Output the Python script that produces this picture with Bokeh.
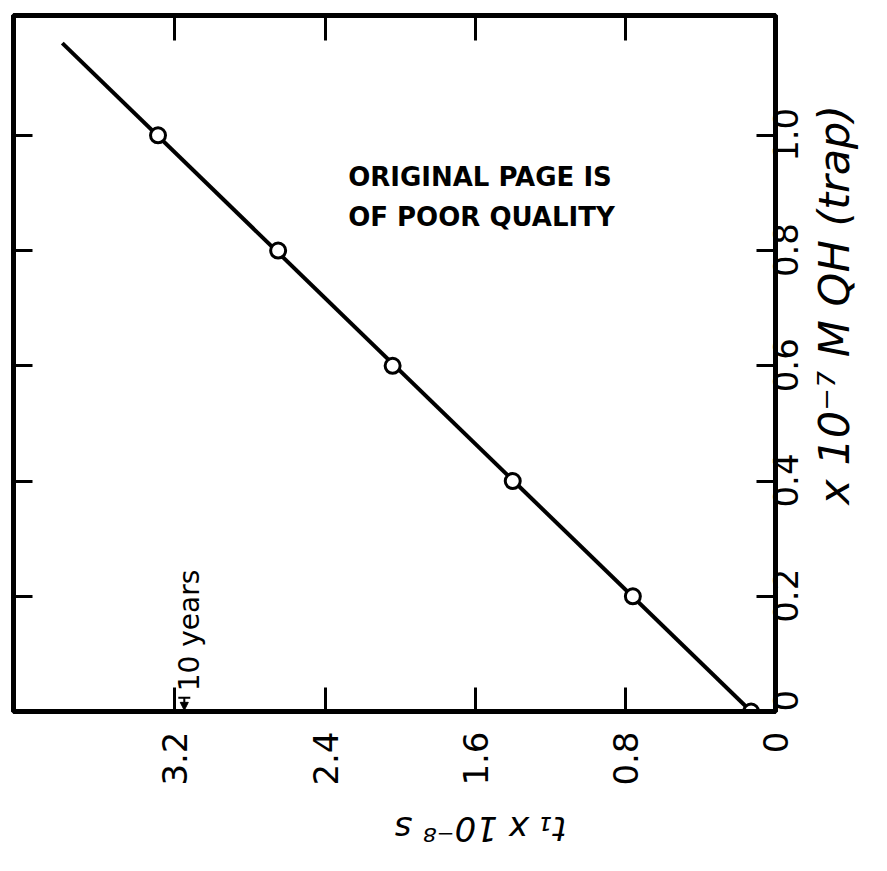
from math import pi

from bokeh.embed import file_html
from bokeh.resources import INLINE
from bokeh.plotting import figure
from bokeh.models import (Range1d, LinearAxis, FixedTicker, Label, Arrow,
                          NormalHead, TeeHead, ColumnDataSource)

# trapped QH concentration (x 10^-7 M) and lifetime t1 (x 10^-8 s)
conc = [0.0, 0.2, 0.4, 0.6, 0.8, 1.0]
t1 = [0.13, 0.76, 1.40, 2.04, 2.65, 3.29]

# straight line drawn through the points
fit_t1 = [0.13, 3.80]
fit_conc = [0.0, 1.16]

t1_ticks = [0.0, 0.8, 1.6, 2.4, 3.2]
conc_ticks = [0.0, 0.2, 0.4, 0.6, 0.8, 1.0]
conc_tick_text = ["0", "0.2", "0.4", "0.6", "0.8", "1.0"]

x_title = "t₁ x 10⁻⁸ s"
y_title = "x 10⁻⁷ M QH (trap)"

# position of the "10 years" marker on the t1 scale
ten_years_t1 = 3.15

FONT = "DejaVu Sans"
TICK_FONT_SIZE = "34px"
Y_END = 1.208
# rotated right-hand labels start at their anchor; this shift centres them on the ticks
LABEL_SHIFT = 0.046
# where the rotated right-hand title begins (concentration units)
Y_TITLE_START = 0.359

p = figure(width=887, height=871,
           x_range=Range1d(4.06, 0.0), y_range=Range1d(0.0, Y_END),
           output_backend="svg", toolbar_location=None,
           x_axis_location=None, y_axis_location=None,
           min_border_left=13, min_border_right=112,
           min_border_top=15, min_border_bottom=159)
p.extra_y_ranges = {"labels": Range1d(LABEL_SHIFT, Y_END + LABEL_SHIFT)}

p.background_fill_color = "white"
p.border_fill_color = "white"
p.grid.visible = False
p.outline_line_color = "black"
p.outline_line_width = 5


def style_axis(ax, ticks, show_labels):
    ax.ticker = FixedTicker(ticks=ticks)
    ax.axis_line_color = "black"
    ax.axis_line_width = 5
    ax.major_tick_line_color = "black"
    ax.major_tick_line_width = 3
    ax.major_tick_out = 0
    ax.minor_tick_line_color = None
    if show_labels:
        ax.major_label_text_font = FONT
        ax.major_label_text_font_size = TICK_FONT_SIZE
        ax.major_label_text_color = "black"
    else:
        ax.major_label_text_font_size = "0px"
        ax.major_label_standoff = 0


bottom = LinearAxis()
style_axis(bottom, t1_ticks, True)
bottom.major_tick_in = 24
bottom.major_label_orientation = pi / 2
bottom.major_label_standoff = 20
bottom.axis_label = x_title
bottom.axis_label_text_font = FONT
bottom.axis_label_text_font_style = "italic"
bottom.axis_label_text_font_size = "34px"
bottom.axis_label_text_line_height = 1.0
bottom.axis_label_text_color = "black"
bottom.axis_label_standoff = 40
bottom.axis_label_orientation = pi
p.add_layout(bottom, "below")

top = LinearAxis()
style_axis(top, t1_ticks, False)
top.major_tick_in = 25
p.add_layout(top, "above")

# right side: tick marks on the frame edge
right = LinearAxis()
style_axis(right, conc_ticks, False)
right.major_tick_in = 19
p.add_layout(right, "right")

# right side: rotated tick labels (the lowest one cannot sit below the frame)
label_ticks = [max(v, LABEL_SHIFT) for v in conc_ticks]
right_labels = LinearAxis(y_range_name="labels")
style_axis(right_labels, label_ticks, True)
right_labels.axis_line_color = None
right_labels.major_tick_line_color = None
right_labels.major_tick_in = 0
right_labels.major_label_orientation = pi / 2
right_labels.major_label_standoff = 10
right_labels.major_label_overrides = dict(zip(label_ticks, conc_tick_text))
p.add_layout(right_labels, "right")

# right side: rotated title
right_title = LinearAxis()
style_axis(right_title, [Y_TITLE_START], True)
right_title.axis_line_color = None
right_title.major_tick_line_color = None
right_title.major_tick_in = 0
right_title.major_label_orientation = pi / 2
right_title.major_label_standoff = 21
right_title.major_label_text_font_size = "43px"
right_title.major_label_text_font_style = "italic"
right_title.major_label_overrides = {Y_TITLE_START: y_title}
p.add_layout(right_title, "right")

left = LinearAxis()
style_axis(left, conc_ticks, False)
left.major_tick_in = 19
p.add_layout(left, "left")

# line and open circles
p.line(fit_t1, fit_conc, line_color="black", line_width=4)
src = ColumnDataSource(dict(t1=t1, conc=conc))
p.scatter("t1", "conc", source=src, size=15, marker="circle",
          fill_color="white", line_color="black", line_width=3)

# 10 years marker
p.add_layout(Arrow(x_start=ten_years_t1, y_start=0.024,
                   x_end=ten_years_t1, y_end=0.002,
                   line_color="black", line_width=2,
                   start=TeeHead(size=12, line_color="black", line_width=2),
                   end=NormalHead(size=8, fill_color="black", line_color="black")))
p.add_layout(Label(x=3.12, y=0.035, text="10 years", angle=pi / 2,
                   text_align="left", text_baseline="middle",
                   text_font=FONT, text_font_size="28px", text_color="black"))

# stamp
p.add_layout(Label(x=2.277, y=0.927, text="ORIGINAL PAGE IS",
                   text_align="left", text_baseline="alphabetic",
                   text_font=FONT, text_font_style="bold",
                   text_font_size="26px", text_color="black"))
p.add_layout(Label(x=2.277, y=0.858, text="OF POOR QUALITY",
                   text_align="left", text_baseline="alphabetic",
                   text_font=FONT, text_font_style="bold",
                   text_font_size="26px", text_color="black"))

open("out.html", "w").write(file_html(p, INLINE))
